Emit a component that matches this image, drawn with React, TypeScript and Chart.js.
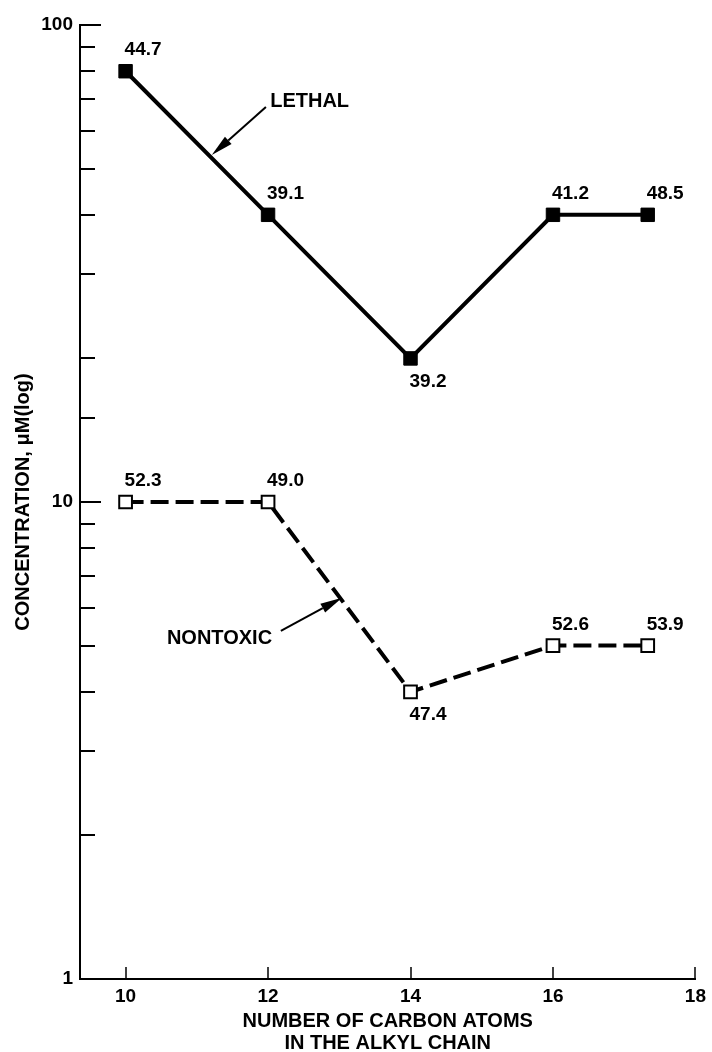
import React, { useEffect, useRef } from 'react';
import { Chart, registerables } from 'chart.js';

Chart.register(...registerables);

// ---- data ----
const carbonAtoms = [10, 12, 14, 16, 17.33];
const lethalConc = [80, 40, 20, 40, 40];
const nontoxicConc = [10, 10, 4, 5, 5];
const lethalLabels = ['44.7', '39.1', '39.2', '41.2', '48.5'];
const nontoxicLabels = ['52.3', '49.0', '47.4', '52.6', '53.9'];
const lethalLabelBelow = [false, false, true, false, false];
const nontoxicLabelBelow = [false, false, true, false, false];
const xTicks = [10, 12, 14, 16, 18];
const yLabelTicks = [1, 10, 100];
const xTitle = ['NUMBER OF CARBON ATOMS', 'IN THE ALKYL CHAIN'];
const yTitle = 'CONCENTRATION, \u03BCM(log)';
const seriesNames = ['LETHAL', 'NONTOXIC'];
// annotation anchors in data coordinates [carbon atoms, concentration]
const nameAnchors = [[12.03, 69], [10.58, 5.17]];
const arrowTails = [[11.97, 67.3], [12.18, 5.37]];
const arrowTips = [[11.21, 53.4], [13.04, 6.3]];

const FONT = '"Liberation Sans", Arial, sans-serif';

const annotatePlugin = {
  id: 'annotate',
  afterDatasetsDraw(chart: any) {
    const { ctx, chartArea } = chart;
    const x = chart.scales.x;
    const y = chart.scales.y;
    ctx.save();
    ctx.strokeStyle = '#000';
    ctx.fillStyle = '#000';
    // inward y tick marks
    ctx.lineWidth = 2;
    y.ticks.forEach((t: any) => {
      if (t.value <= 1) return;
      const py = Math.round(y.getPixelForValue(t.value));
      const len = yLabelTicks.includes(t.value) ? 21 : 15;
      ctx.beginPath();
      ctx.moveTo(chartArea.left, py);
      ctx.lineTo(chartArea.left + len, py);
      ctx.stroke();
    });
    // inward x tick marks
    ctx.lineWidth = 1.5;
    x.ticks.forEach((t: any) => {
      const px = Math.round(x.getPixelForValue(t.value));
      ctx.beginPath();
      ctx.moveTo(px, chartArea.bottom);
      ctx.lineTo(px, chartArea.bottom - 12);
      ctx.stroke();
    });
    // value labels
    ctx.font = `bold 19px ${FONT}`;
    ctx.textAlign = 'left';
    ctx.textBaseline = 'middle';
    const sets: [string[], boolean[]][] = [
      [lethalLabels, lethalLabelBelow],
      [nontoxicLabels, nontoxicLabelBelow],
    ];
    sets.forEach(([labels, below], di) => {
      const meta = chart.getDatasetMeta(di);
      meta.data.forEach((el: any, i: number) => {
        ctx.fillText(labels[i], el.x - 1, below[i] ? el.y + 23 : el.y - 21);
      });
    });
    // series names with arrows
    ctx.font = `bold 20px ${FONT}`;
    seriesNames.forEach((name, i) => {
      const ax = x.getPixelForValue(nameAnchors[i][0]);
      const ay = y.getPixelForValue(nameAnchors[i][1]);
      ctx.fillText(name, ax, ay);
      const tx = x.getPixelForValue(arrowTails[i][0]);
      const ty = y.getPixelForValue(arrowTails[i][1]);
      const hx = x.getPixelForValue(arrowTips[i][0]);
      const hy = y.getPixelForValue(arrowTips[i][1]);
      const ang = Math.atan2(hy - ty, hx - tx);
      const headLen = 22;
      const headHalf = 5;
      const bx = hx - headLen * Math.cos(ang);
      const by = hy - headLen * Math.sin(ang);
      ctx.lineWidth = 2;
      ctx.beginPath();
      ctx.moveTo(tx, ty);
      ctx.lineTo(bx, by);
      ctx.stroke();
      ctx.beginPath();
      ctx.moveTo(hx, hy);
      ctx.lineTo(bx + headHalf * Math.sin(ang), by - headHalf * Math.cos(ang));
      ctx.lineTo(bx - headHalf * Math.sin(ang), by + headHalf * Math.cos(ang));
      ctx.closePath();
      ctx.fill();
    });
    ctx.restore();
  },
};

export default function App() {
  const ref = useRef<HTMLCanvasElement | null>(null);

  useEffect(() => {
    if (!ref.current) return;
    const chart = new Chart(ref.current, {
      type: 'line',
      data: {
        datasets: [
          {
            label: seriesNames[0],
            data: carbonAtoms.map((c, i) => ({ x: c, y: lethalConc[i] })),
            borderColor: '#000',
            borderWidth: 4,
            pointStyle: 'rect',
            pointRadius: 9.5,
            pointBackgroundColor: '#000',
            pointBorderColor: '#000',
            pointBorderWidth: 1,
            tension: 0,
            fill: false,
          },
          {
            label: seriesNames[1],
            data: carbonAtoms.map((c, i) => ({ x: c, y: nontoxicConc[i] })),
            borderColor: '#000',
            borderWidth: 4,
            borderDash: [18, 7],
            pointStyle: 'rect',
            pointRadius: 9,
            pointBackgroundColor: '#fff',
            pointBorderColor: '#000',
            pointBorderWidth: 2,
            tension: 0,
            fill: false,
          },
        ],
      },
      options: {
        responsive: false,
        devicePixelRatio: 1,
        animation: false,
        events: [],
        layout: { padding: { top: 25, right: 11, left: 0, bottom: 0 } },
        plugins: {
          legend: { display: false },
          tooltip: { enabled: false },
        },
        scales: {
          x: {
            type: 'linear',
            min: 9.36,
            max: 18,
            grid: { display: false, drawTicks: false },
            border: { display: true, width: 2, color: '#000' },
            afterBuildTicks: (axis: any) => {
              axis.ticks = xTicks.map((v) => ({ value: v }));
            },
            afterFit: (axis: any) => {
              axis.height = 75;
            },
            ticks: {
              color: '#000',
              font: { family: FONT, size: 19, weight: 'bold' },
              padding: 6,
              maxRotation: 0,
              autoSkip: false,
              callback: (v: any) => String(v),
            },
            title: {
              display: true,
              text: xTitle,
              color: '#000',
              font: { family: FONT, size: 20, weight: 'bold', lineHeight: 1.1 },
              padding: { top: 0, bottom: 0 },
            },
          },
          y: {
            type: 'logarithmic',
            min: 1,
            max: 100,
            grid: { display: false, drawTicks: false },
            border: { display: true, width: 2, color: '#000' },
            afterFit: (axis: any) => {
              axis.width = 80;
            },
            ticks: {
              color: '#000',
              font: { family: FONT, size: 19, weight: 'bold' },
              padding: 7,
              autoSkip: false,
              callback: (v: any) => (yLabelTicks.includes(Number(v)) ? String(v) : ''),
            },
            title: {
              display: true,
              text: yTitle,
              color: '#000',
              font: { family: FONT, size: 20, weight: 'bold', lineHeight: 1.2 },
              padding: { top: 11, bottom: 0 },
            },
          },
        },
      },
      plugins: [annotatePlugin],
    } as any);
    return () => chart.destroy();
  }, []);

  return (
    <div
      style={{
        position: 'fixed',
        left: 0,
        top: 0,
        width: 712,
        height: 1052,
        overflow: 'hidden',
        background: '#fff',
      }}
    >
      <canvas ref={ref} width={712} height={1054} style={{ display: 'block' }} />
    </div>
  );
}
